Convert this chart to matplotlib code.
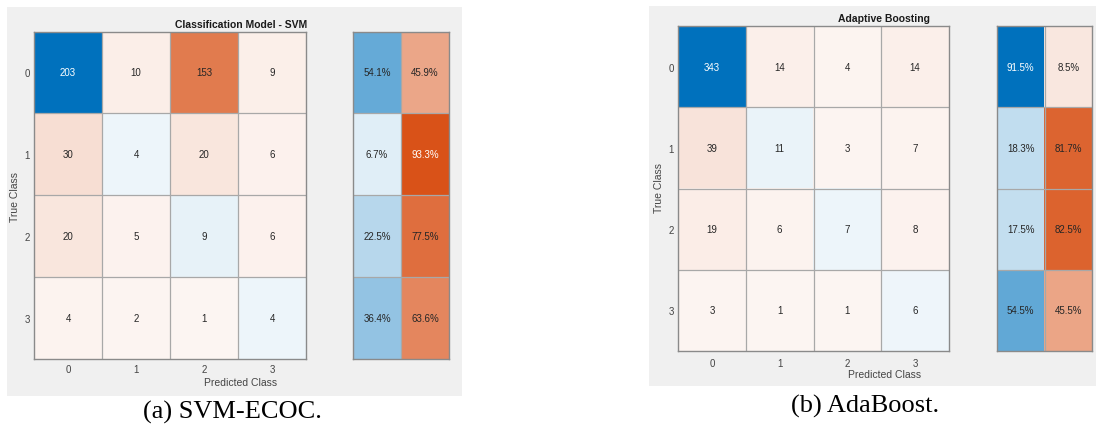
import matplotlib

matplotlib.use("Agg")
import matplotlib.pyplot as plt
import numpy as np
from matplotlib.patches import Rectangle

plt.rcParams["font.family"] = ["Liberation Sans", "DejaVu Sans"]

FIG_W, FIG_H = 1096, 431
DPI = 100

CLASS_LABELS = ["0", "1", "2", "3"]

SVM_TITLE = "Classification Model - SVM"
SVM_COUNTS = [
    [203, 10, 153, 9],
    [30, 4, 20, 6],
    [20, 5, 9, 6],
    [4, 2, 1, 4],
]
SVM_CAPTION = "(a) SVM-ECOC."

ADA_TITLE = "Adaptive Boosting"
ADA_COUNTS = [
    [343, 14, 4, 14],
    [39, 11, 3, 7],
    [19, 6, 7, 8],
    [3, 1, 1, 6],
]
ADA_CAPTION = "(b) AdaBoost."

BLUE = np.array([0, 114, 189]) / 255
ORANGE = np.array([217, 83, 25]) / 255
PANEL_GRAY = "#f0f0f0"
GRID_GRAY = "#a8a8a8"
FRAME_GRAY = "#8a8a8a"
TEXT_DARK = "#262626"
TICK_DARK = "#444444"

# pixel boxes (left, top, right, bottom) for each chart
SVM_LAYOUT = {
    "panel": (7, 8, 462, 397),
    "matrix": (34, 32.5, 306, 360),
    "summary": (353, 32.5, 449, 360),
    "title": (241, 25),
    "xlabel": (241, 383),
    "ylabel": (15, 197),
    "caption": (232, 412),
    "xpad": 3.5,
    "ypad": 3.0,
}
ADA_LAYOUT = {
    "panel": (649, 7, 1096, 387),
    "matrix": (678, 27, 949, 352),
    "summary": (997, 27, 1092, 352),
    "title": (884, 19),
    "xlabel": (885, 375),
    "ylabel": (659, 188),
    "caption": (865, 406),
    "xpad": 5.0,
    "ypad": 3.0,
}


def _fx(x):
    return x / FIG_W


def _fy(y):
    return 1 - y / FIG_H


def _px_axes(fig, box):
    left, top, right, bottom = box
    return fig.add_axes([_fx(left), _fy(bottom), (right - left) / FIG_W, (bottom - top) / FIG_H])


def _tint(base, value, vmax):
    """Blend a base colour with white, keeping a faint tint for small values."""
    frac = 0.05 + 0.95 * value / vmax
    return 1 - frac * (1 - base)


def _draw_grid(ax, nrows, ncols):
    for i in range(1, nrows):
        ax.axhline(i - 0.5, color=GRID_GRAY, linewidth=0.9)
    for j in range(1, ncols):
        ax.axvline(j - 0.5, color=GRID_GRAY, linewidth=0.9)
    for spine in ax.spines.values():
        spine.set_color(FRAME_GRAY)
        spine.set_linewidth(1.0)


def _draw_cells(ax, values, colors, labels, white_mask, fontsize):
    nrows, ncols = values.shape
    ax.imshow(colors, aspect="auto", interpolation="nearest",
              extent=(-0.5, ncols - 0.5, nrows - 0.5, -0.5))
    for i in range(nrows):
        for j in range(ncols):
            ax.text(j, i, labels[i][j], ha="center", va="center",
                    fontsize=fontsize,
                    color="white" if white_mask[i, j] else TEXT_DARK)
    _draw_grid(ax, nrows, ncols)


def draw_confusion_chart(fig, counts, title, caption, layout):
    counts = np.asarray(counts, dtype=float)
    n = counts.shape[0]

    bg_left, bg_top, bg_right, bg_bottom = layout["panel"]
    fig.patches.append(Rectangle(
        (_fx(bg_left), _fy(bg_bottom)),
        (bg_right - bg_left) / FIG_W, (bg_bottom - bg_top) / FIG_H,
        transform=fig.transFigure, facecolor=PANEL_GRAY, edgecolor="none",
        zorder=-1,
    ))

    # confusion matrix
    ax = _px_axes(fig, layout["matrix"])
    vmax = counts.max()
    colors = np.zeros((n, n, 3))
    for i in range(n):
        for j in range(n):
            colors[i, j] = _tint(BLUE if i == j else ORANGE, counts[i, j], vmax)
    labels = [[f"{int(v)}" for v in row] for row in counts]
    _draw_cells(ax, counts, colors, labels, counts == vmax, 7)
    ax.set_xticks(range(n), CLASS_LABELS)
    ax.set_yticks(range(n), CLASS_LABELS)
    ax.tick_params(axis="both", length=0, labelsize=7, colors=TICK_DARK)
    ax.tick_params(axis="x", pad=layout["xpad"])
    ax.tick_params(axis="y", pad=layout["ypad"])

    # row summary: true positive rate / false negative rate
    row_totals = counts.sum(axis=1)
    correct = np.diag(counts)
    rates = np.column_stack([correct / row_totals,
                             (row_totals - correct) / row_totals]) * 100
    sax = _px_axes(fig, layout["summary"])
    rmax = rates.max()
    scolors = np.zeros((n, 2, 3))
    for i in range(n):
        scolors[i, 0] = _tint(BLUE, rates[i, 0], rmax)
        scolors[i, 1] = _tint(ORANGE, rates[i, 1], rmax)
    slabels = [[f"{v:.1f}%" for v in row] for row in rates]
    _draw_cells(sax, rates, scolors, slabels, rates == rmax, 7)
    sax.set_xticks([])
    sax.set_yticks([])

    tx, ty = layout["title"]
    fig.text(_fx(tx), _fy(ty), title, ha="center", va="center",
             fontsize=7.5, fontweight="bold", color="#1a1a1a")
    lx, ly = layout["xlabel"]
    fig.text(_fx(lx), _fy(ly), "Predicted Class", ha="center", va="center",
             fontsize=7.5, color=TICK_DARK)
    yx, yy = layout["ylabel"]
    fig.text(_fx(yx), _fy(yy), "True Class", ha="center", va="center",
             fontsize=7.5, color=TICK_DARK, rotation=90)
    cx, cy = layout["caption"]
    fig.text(_fx(cx), _fy(cy), caption, ha="center", va="center",
             fontsize=19, family=["Liberation Serif", "DejaVu Serif"],
             color="black")


fig = plt.figure(figsize=(FIG_W / DPI, FIG_H / DPI), dpi=DPI)
fig.patch.set_facecolor("white")
draw_confusion_chart(fig, SVM_COUNTS, SVM_TITLE, SVM_CAPTION, SVM_LAYOUT)
draw_confusion_chart(fig, ADA_COUNTS, ADA_TITLE, ADA_CAPTION, ADA_LAYOUT)
fig.savefig("out.png", dpi=DPI)
